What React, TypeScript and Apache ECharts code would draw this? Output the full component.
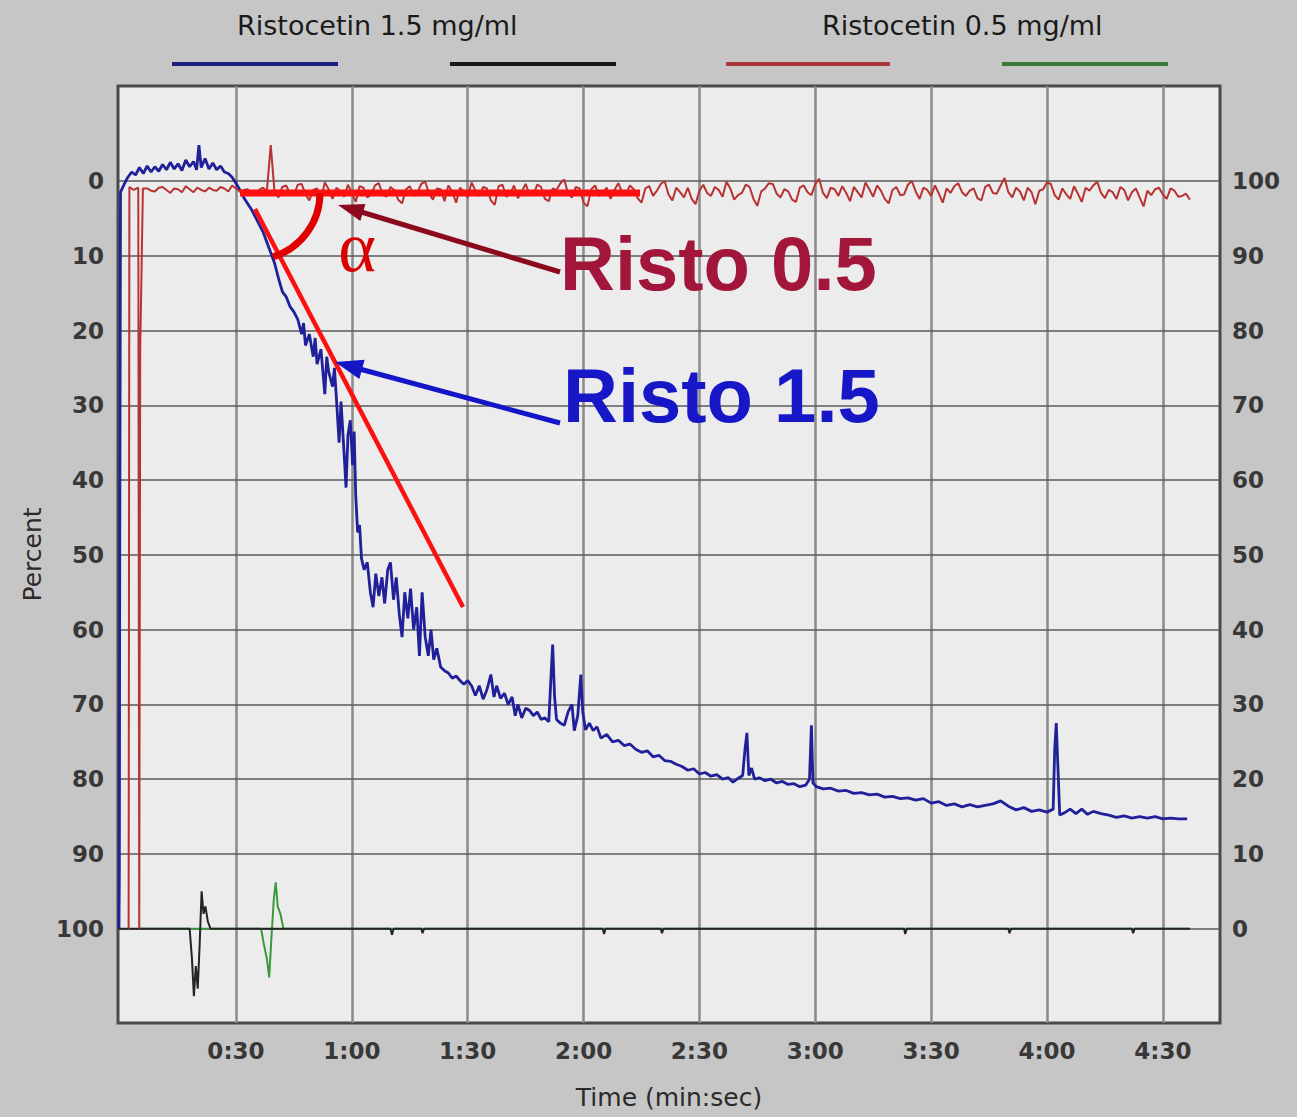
import { useEffect, useRef } from 'react';
import * as echarts from 'echarts';

// ---- axis ranges & ticks ----
const X_MIN = -0.55;
const X_MAX = 284.8;
const Y_MIN = -12.7;
const Y_MAX = 112.6;
const TIME_TICKS = [30, 60, 90, 120, 150, 180, 210, 240, 270];
const PERCENT_TICKS = [0, 10, 20, 30, 40, 50, 60, 70, 80, 90, 100];
const LEGEND_LABELS = ['Ristocetin 1.5 mg/ml', 'Ristocetin 0.5 mg/ml'];

// ---- Ristocetin 1.5 mg/ml, channel A (blue): [seconds, percent] ----
const BLUE_15: [number, number][] = [
  [-0.3, 100], [-0.2, 92], [-0.1, 50], [0.1, 1.5], [1, 0.5], [2, -0.5], [3, -1.2], [4, -0.8], [5, -1.8],
  [6, -1.0], [7, -2.0], [8, -1.2], [9, -1.9], [10, -1.3], [11, -2.2], [12, -1.5], [13, -2.5], [14, -1.6],
  [15, -2.3], [16, -1.4], [17, -2.8], [18, -1.9], [19, -2.6], [19.8, -1.5], [20.4, -4.8], [21, -1.8],
  [22, -3.0], [23, -1.6], [24, -2.4], [25, -1.5], [26, -2.0], [27, -1.2], [28, -1.0], [29, -0.5], [30, 0.3],
  [31, 1.2], [32, 2.2], [33, 3.0], [34, 3.8], [35, 4.8], [36, 5.8], [37, 6.8], [38, 8.2], [39, 9.6],
  [40, 11.0], [41, 13.0], [42, 14.8], [43, 15.5], [44, 16.8], [45, 17.5], [46, 18.5], [47, 20.5],
  [47.5, 19.0], [48, 22.0], [49, 20.5], [50, 23.5], [50.5, 21.0], [51, 24.5], [52, 22.5], [53, 28.5],
  [53.5, 23.5], [54, 25.5], [55, 27.5], [55.5, 25.0], [56, 29.0], [56.7, 35.0], [57.2, 29.5], [58, 36.5],
  [58.5, 41.0], [59, 34.0], [59.6, 32.0], [60.2, 38.0], [60.6, 33.5], [61, 42.0], [61.5, 47.0], [62, 46.0],
  [62.5, 50.5], [63.2, 52.0], [64, 51.0], [64.8, 55.0], [65.5, 57.0], [66.2, 52.5], [67, 55.5], [67.8, 53.0],
  [68.5, 56.5], [69.3, 52.0], [70, 51.0], [70.8, 56.0], [71.5, 53.0], [72.3, 58.0], [73, 61.0], [73.7, 55.0],
  [74.5, 58.5], [75.2, 54.5], [76, 60.0], [76.8, 57.0], [77.5, 63.5], [78.2, 55.0], [79, 61.0], [79.8, 63.5],
  [80.5, 60.0], [81.2, 64.0], [82, 62.5], [83, 65.0], [84, 65.5], [85, 65.8], [86, 66.5], [87, 66.2],
  [88, 66.8], [89, 67.3], [90, 66.8], [91, 67.5], [92, 68.8], [93, 67.5], [94, 69.3], [95, 68.0], [96, 66.0],
  [96.8, 69.0], [97.5, 67.5], [98.5, 69.2], [99.5, 68.5], [100.5, 70.0], [101.5, 69.0], [102.3, 71.5],
  [103, 70.0], [104, 71.8], [105, 70.5], [106, 70.8], [107, 71.5], [108, 71.0], [109, 72.0], [110, 71.8],
  [111, 72.3], [111.6, 66.0], [112, 62.0], [112.5, 69.0], [113, 72.0], [114, 72.5], [115, 72.8], [116, 71.0],
  [117, 70.0], [117.6, 73.5], [118.5, 71.5], [119.3, 66.0], [119.8, 71.0], [120.5, 73.4], [121.5, 72.5],
  [122.5, 73.5], [123.5, 73.0], [124.5, 74.5], [126, 74.0], [127.5, 75.0], [129, 74.8], [130.5, 75.5],
  [132, 75.3], [133.5, 76.0], [135, 76.4], [136.5, 76.2], [138, 77.0], [139.5, 76.8], [141, 77.5],
  [142.5, 77.6], [144, 78.0], [145.5, 78.3], [147, 78.8], [148.5, 78.6], [150, 79.3], [151.5, 79.1],
  [153, 79.6], [154.5, 79.4], [156, 80.0], [157.5, 79.8], [158.7, 80.4], [160, 79.9], [161.2, 79.5],
  [161.8, 76.0], [162.3, 73.8], [162.8, 79.5], [163.5, 78.5], [164.3, 80.0], [165.5, 79.8], [167, 80.2],
  [168.5, 80.0], [170, 80.5], [171.5, 80.3], [173, 80.7], [174.5, 80.6], [176, 81.0], [177.5, 80.8],
  [178.5, 80.0], [179, 72.8], [179.4, 80.5], [180.3, 81.0], [182, 81.3], [184, 81.2], [186, 81.6],
  [188, 81.5], [190, 81.9], [192, 81.8], [194, 82.1], [196, 82.0], [198, 82.4], [200, 82.3], [202, 82.6],
  [204, 82.5], [206, 82.8], [208, 82.6], [210, 83.2], [212, 83.0], [214, 83.5], [216, 83.3], [218, 83.7],
  [220, 83.4], [222, 83.7], [224, 83.5], [226, 83.3], [228, 82.9], [230, 83.6], [232, 84.1], [234, 83.8],
  [236, 84.3], [238, 84.1], [240, 84.4], [241.6, 84.0], [242, 76.0], [242.4, 72.5], [242.8, 78.0],
  [243.3, 84.8], [244.5, 84.5], [246, 84.0], [247.5, 84.6], [249, 84.0], [250.5, 84.7], [252, 84.3],
  [254, 84.6], [256, 84.8], [258, 85.1], [260, 84.9], [262, 85.2], [264, 85.0], [266, 85.2], [268, 85.0],
  [270, 85.3], [272, 85.2], [274, 85.3], [276.3, 85.3],
];

// ---- Ristocetin 0.5 mg/ml, channel A (red) ----
const RED_05_START: [number, number][] = [
  [2.2, 100], [2.4, 0.8], [3.5, 1.2], [4.7, 0.9], [4.95, 100], [5.2, 22.6], [5.9, 1.0],
];
const RED_05_T0 = 7; // seconds, then one reading per second
const RED_05_STEP = 1;
const RED_05_VALUES = [
  1.0, 1.3, 1.4, 0.9, 0.8, 1.2, 1.6, 1.0, 1.1, 1.5,
  0.7, 1.1, 1.5, 0.9, 1.2, 1.4, 0.9, 1.2, 1.3, 0.8,
  1.0, 1.4, 0.6, 1.0, 1.4, 1.2, 1.1, 1.5, 1.7, 1.2,
  0.9, 1.4, -4.8, 1.6, 2.2, 0.8, 0.6, 1.7, 1.9, 0.5,
  0.4, 1.8, 2.6, 1.2, 1.0, 2.3, 0.2, 1.1, 2.4, 0.9,
  1.3, 2.1, 0.5, 1.6, 2.8, 0.7, 0.9, 2.2, 1.8, 0.6,
  0.3, 1.9, 2.1, 0.8, 1.2, 2.5, 3.0, 1.1, 0.7, 2.0,
  1.5, 0.4, 0.1, 1.7, 2.5, 1.0, 1.1, 2.7, 0.6, 1.4,
  2.9, 0.9, 1.4, 2.2, 0.2, 1.3, 2.0, 0.8, 1.0, 2.6,
  3.2, 0.7, 0.5, 2.1, 1.7, 0.6, 2.3, 1.4, 0.4, 1.8,
  1.9, 0.5, 0.8, 2.4, 2.7, 1.0, 1.2, 0.3, -0.2, 1.7,
  2.2, 0.8, 1.0, 2.9, 3.4, 1.1, 0.6, 2.0, 1.6, 0.9,
  2.4, 1.2, 0.3, 1.5, 1.8, 0.6, 1.1, 2.3, 2.9, 1.0,
  0.7, 2.0, 1.3, 0.4, 0.0, 1.8, 2.6, 0.9, 1.5, 2.2,
  0.9, 2.4, 3.1, 1.3, 0.5, 1.6, 2.0, 0.8, 1.2, 2.1,
  0.1, 1.0, 2.5, 1.9, 1.6, 0.5, 0.8, 2.4, 3.3, 1.4,
  1.0, 0.3, 0.4, 1.7, 2.2, 1.1, 1.4, 2.5, 2.8, 0.9,
  0.6, 1.5, 1.9, 0.4, -0.3, 1.6, 2.3, 0.9, 1.1, 2.0,
  0.7, 1.6, 2.7, 0.8, 1.5, 2.2, 0.2, 1.1, 2.1, 0.6,
  1.3, 2.4, 3.0, 1.2, 0.8, 1.9, 1.8, 0.5, 0.0, 1.4,
  2.4, 0.9, 1.2, 2.0, 0.6, 1.7, 2.9, 1.0, 1.6, 0.7,
  0.3, 1.5, 2.0, 1.3, 1.0, 2.3, 2.6, 0.8, 0.5, 1.6,
  1.7, 0.6, -0.4, 1.5, 2.2, 0.9, 1.4, 2.6, 0.9, 1.5,
  3.1, 1.3, 1.1, 0.2, 0.4, 1.9, 2.5, 1.0, 1.8, 2.4,
  0.7, 1.7, 2.8, 0.9, 1.3, 0.6, 0.1, 1.6, 2.3, 1.2,
  1.5, 2.4, 0.8, 1.2, 2.6, 1.5, 1.0, 2.2, 3.4, 1.3,
  1.9, 1.1, 0.9, 1.8, 2.4, 1.0, 1.3, 2.1, 2.0, 1.7,
  2.5,
];

// ---- Ristocetin 1.5 mg/ml, channel B (black) ----
const BLACK_15: [number, number][] = [
  [-0.55, 100], [18, 100], [18.6, 104], [19.1, 109], [19.6, 105], [20.1, 108], [20.6, 102], [21.1, 95],
  [21.6, 98], [22.1, 97], [22.7, 99], [23.4, 100], [70, 100], [70.4, 100.8], [70.8, 100], [78, 100],
  [78.3, 100.6], [78.7, 100], [125, 100], [125.3, 100.7], [125.7, 100], [140, 100], [140.3, 100.6],
  [140.7, 100], [203, 100], [203.3, 100.7], [203.7, 100], [230, 100], [230.3, 100.6], [230.7, 100],
  [262, 100], [262.3, 100.6], [262.7, 100], [277, 100],
];

// ---- Ristocetin 0.5 mg/ml, channel B (green) ----
const GREEN_05: [number, number][] = [
  [5, 100], [36.5, 100], [37.2, 102], [38, 104], [38.6, 106.5], [39.2, 101], [39.8, 96], [40.3, 93.8],
  [40.8, 97], [41.5, 98], [42.3, 100], [277, 100],
];

const fmtTime = (v: number) => `${Math.floor(v / 60)}:${String(Math.round(v % 60)).padStart(2, '0')}`;

export default function App() {
  const ref = useRef<HTMLDivElement>(null);

  useEffect(() => {
    if (!ref.current) return;
    const chart = echarts.init(ref.current, null, { renderer: 'svg' });

    const red = [
      ...RED_05_START,
      ...RED_05_VALUES.map((v, i) => [RED_05_T0 + i * RED_05_STEP, v] as [number, number]),
    ];

    const gridLines = [
      ...TIME_TICKS.map((t) => ({ xAxis: t, lineStyle: { color: '#8a8a8a', width: 2.5, type: 'solid' } })),
      ...PERCENT_TICKS.map((p) => ({ yAxis: p, lineStyle: { color: '#5a5a5a', width: 1.5, type: 'solid' } })),
    ];

    const labelFont = { fontFamily: 'DejaVu Sans', fontSize: 23, fontWeight: 'bold', color: '#383838' };

    const Z = 50;
    const graphics: any[] = [
      // legend
      { type: 'text', x: 237, y: 25, z: Z, style: { text: LEGEND_LABELS[0], font: '27px "DejaVu Sans"', fill: '#1a1a1a', align: 'left', verticalAlign: 'middle', textAlign: 'left', textVerticalAlign: 'middle' } },
      { type: 'text', x: 822, y: 25, z: Z, style: { text: LEGEND_LABELS[1], font: '27px "DejaVu Sans"', fill: '#1a1a1a', align: 'left', verticalAlign: 'middle', textAlign: 'left', textVerticalAlign: 'middle' } },
      { type: 'line', z: Z, shape: { x1: 172, y1: 64, x2: 338, y2: 64 }, style: { stroke: '#1e1e80', lineWidth: 4 } },
      { type: 'line', z: Z, shape: { x1: 450, y1: 64, x2: 616, y2: 64 }, style: { stroke: '#1a1a1a', lineWidth: 4 } },
      { type: 'line', z: Z, shape: { x1: 726, y1: 64, x2: 890, y2: 64 }, style: { stroke: '#a83838', lineWidth: 4 } },
      { type: 'line', z: Z, shape: { x1: 1002, y1: 64, x2: 1168, y2: 64 }, style: { stroke: '#3a7a3a', lineWidth: 4 } },
      // slope annotation
      { type: 'line', z: Z, shape: { x1: 240, y1: 193, x2: 640, y2: 193 }, style: { stroke: '#ff1010', lineWidth: 7 } },
      { type: 'line', z: Z, shape: { x1: 255, y1: 209, x2: 463, y2: 607 }, style: { stroke: '#ff1010', lineWidth: 4.5 } },
      { type: 'arc', z: Z, shape: { cx: 253, cy: 193, r: 67, startAngle: 0, endAngle: 1.267, clockwise: true }, style: { stroke: '#e00000', lineWidth: 7, fill: null } },
      { type: 'text', x: 357, y: 247, z: Z, style: { text: 'α', font: '72px "Liberation Serif"', fill: '#d80000', align: 'center', verticalAlign: 'middle', textAlign: 'center', textVerticalAlign: 'middle' } },
      // arrows
      { type: 'line', z: Z, shape: { x1: 560, y1: 272, x2: 358, y2: 211 }, style: { stroke: '#8c0a1e', lineWidth: 5 } },
      { type: 'polygon', z: Z, shape: { points: [[338, 205], [360.3, 221.1], [365.5, 203.9]] }, style: { fill: '#8c0a1e' } },
      { type: 'line', z: Z, shape: { x1: 560, y1: 423, x2: 356, y2: 368 }, style: { stroke: '#1515c8', lineWidth: 5 } },
      { type: 'polygon', z: Z, shape: { points: [[335, 362], [359.4, 379], [364.6, 359.7]] }, style: { fill: '#1515c8' } },
      { type: 'text', x: 560, y: 263, z: Z, style: { text: 'Risto 0.5', font: 'bold 76px "Liberation Sans"', fill: '#a3163b', align: 'left', verticalAlign: 'middle', textAlign: 'left', textVerticalAlign: 'middle' } },
      { type: 'text', x: 563, y: 395, z: Z, style: { text: 'Risto 1.5', font: 'bold 76px "Liberation Sans"', fill: '#1717c8', align: 'left', verticalAlign: 'middle', textAlign: 'left', textVerticalAlign: 'middle' } },
    ];

    chart.setOption({
      animation: false,
      backgroundColor: '#c6c6c6',
      grid: {
        left: 118, top: 86, width: 1102, height: 937,
        show: true, backgroundColor: '#ececec', borderColor: '#4a4a4a', borderWidth: 3,
      },
      xAxis: {
        type: 'value', min: X_MIN, max: X_MAX,
        axisLine: { show: false }, axisTick: { show: false }, splitLine: { show: false },
        axisLabel: { ...labelFont, margin: 16, customValues: TIME_TICKS, formatter: (v: number) => fmtTime(v) },
        name: 'Time (min:sec)', nameLocation: 'middle', nameGap: 62,
        nameTextStyle: { fontFamily: 'DejaVu Sans', fontSize: 25, color: '#2a2a2a' },
      },
      yAxis: [
        {
          type: 'value', inverse: true, min: Y_MIN, max: Y_MAX, position: 'left',
          axisLine: { show: false }, axisTick: { show: false }, splitLine: { show: false },
          axisLabel: { ...labelFont, margin: 14, customValues: PERCENT_TICKS },
          name: 'Percent', nameLocation: 'middle', nameGap: 72,
          nameTextStyle: { fontFamily: 'DejaVu Sans', fontSize: 25, color: '#2a2a2a' },
        },
        {
          type: 'value', inverse: true, min: Y_MIN, max: Y_MAX, position: 'right',
          axisLine: { show: false }, axisTick: { show: false }, splitLine: { show: false },
          axisLabel: { ...labelFont, margin: 12, customValues: PERCENT_TICKS, formatter: (v: number) => String(100 - v) },
        },
      ],
      series: [
        {
          name: 'Ristocetin 1.5 mg/ml (A)', type: 'line', data: BLUE_15, showSymbol: false, symbol: 'none',
          lineStyle: { color: '#20209a', width: 2.8 }, z: 3,
          markLine: { silent: true, symbol: ['none', 'none'], z: 1, label: { show: false }, data: gridLines },
        },
        {
          name: 'Ristocetin 0.5 mg/ml (A)', type: 'line', data: red, showSymbol: false, symbol: 'none',
          lineStyle: { color: '#b83232', width: 2 }, z: 4,
        },
        {
          name: 'Ristocetin 0.5 mg/ml (B)', type: 'line', data: GREEN_05, showSymbol: false, symbol: 'none',
          lineStyle: { color: '#3a9a3a', width: 2 }, z: 3,
        },
        {
          name: 'Ristocetin 1.5 mg/ml (B)', type: 'line', data: BLACK_15, showSymbol: false, symbol: 'none',
          lineStyle: { color: '#242424', width: 2 }, z: 3,
        },
      ],
      graphic: graphics,
    });

    return () => chart.dispose();
  }, []);

  return (
    <div
      ref={ref}
      style={{ position: 'fixed', left: 0, top: 0, width: 1297, height: 1117 }}
    />
  );
}
